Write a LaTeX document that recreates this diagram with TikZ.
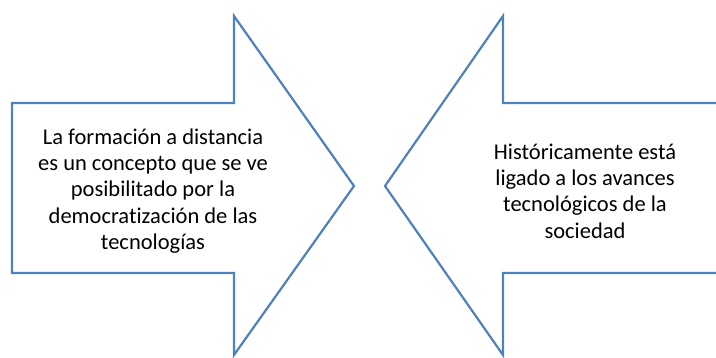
\documentclass[tikz,border=0pt]{standalone}
\usepackage{xcolor}
\usepackage{tikz}
\usepackage{fontspec}
\setmainfont{Carlito}[Ligatures=NoCommon]
\definecolor{arrowblue}{RGB}{79,129,189}

\begin{document}
\begin{tikzpicture}[
    x=1pt, y=-1pt,
    bigarrow/.style={draw=arrowblue, line width=2.2pt, line join=miter, fill=white},
    idea/.style={align=center, font=\fontsize{22.5}{26.3}\selectfont, text=black, inner sep=0pt}
]
\useasboundingbox (0,0) rectangle (716,358);
\clip (0,0) rectangle (716,358);

% left arrow, pointing right
\draw[bigarrow] (12,103) -- (234,103) -- (234,16) -- (354,186) -- (234,355) -- (234,273) -- (12,273) -- cycle;
% right arrow, pointing left (runs off the page)
\draw[bigarrow] (730,103) -- (503,103) -- (503,16) -- (385,186) -- (503,355) -- (503,273) -- (730,273);

\node[idea] (left) at (153,191) {La formación a distancia\\es un concepto que se ve\\posibilitado por la\\democratización de las\\tecnologías};
\node[idea] (right) at (585,191) {Históricamente está\\ligado a los avances\\tecnológicos de la\\sociedad};

\end{tikzpicture}
\end{document}
